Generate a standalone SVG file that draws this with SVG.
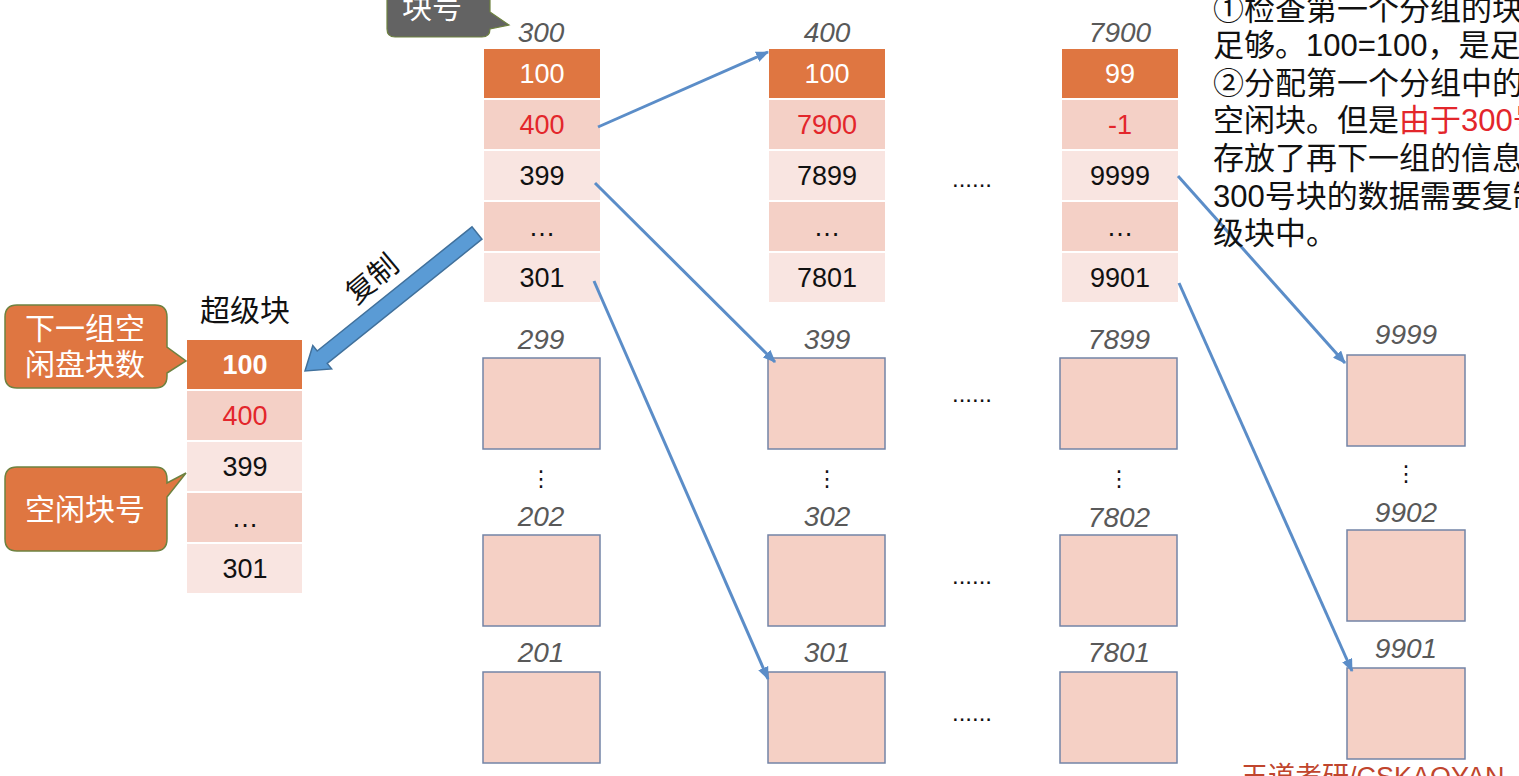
<svg xmlns="http://www.w3.org/2000/svg" width="1519" height="776" viewBox="0 0 1519 776">
<style>
  text { font-family: "Liberation Sans", "Noto Sans CJK SC", sans-serif; }
  .hd { fill: #DF7641; }
  .c1 { fill: #F4D0C6; }
  .c2 { fill: #F9E5E1; }
  .v { font-size: 27px; text-anchor: middle; fill: #111; }
  .w { fill: #fff; }
  .r { fill: #E3262B; }
  .lbl { font-size: 28px; font-style: italic; fill: #595959; text-anchor: middle; }
  .box { fill: #F5D0C5; stroke: #7384A6; stroke-width: 1.5; }
  .dots { font-size: 24px; fill: #111; text-anchor: middle; }
  .vd { font-family: "DejaVu Sans", sans-serif; font-size: 22px; fill: #111; text-anchor: middle; }
  .conn { stroke: #5B8DC8; stroke-width: 3; fill: none; marker-end: url(#ah); }
  .co { fill: #DF7641; stroke: #6E8240; stroke-width: 1.5; }
  .ct { font-size: 30px; fill: #fff; }
  .note { font-size: 31px; fill: #111; }
</style>
<defs>
  <marker id="ah" viewBox="0 0 12 10" refX="11" refY="5" markerWidth="13" markerHeight="11" markerUnits="userSpaceOnUse" orient="auto">
    <path d="M0,0 L12,5 L0,10 z" fill="#5B8DC8"/>
  </marker>
</defs>
<rect width="1519" height="776" fill="#fff"/>

<!-- Column block 300 -->
<g id="blk300">
  <text class="lbl" x="541" y="42">300</text>
  <rect class="hd" x="484" y="49" width="116" height="49"/>
  <rect class="c1" x="484" y="100" width="116" height="49"/>
  <rect class="c2" x="484" y="151" width="116" height="49"/>
  <rect class="c1" x="484" y="202" width="116" height="49"/>
  <rect class="c2" x="484" y="253" width="116" height="49"/>
  <text class="v w" x="542" y="83">100</text>
  <text class="v r" x="542" y="134">400</text>
  <text class="v" x="542" y="185">399</text>
  <text class="v" x="542" y="236">…</text>
  <text class="v" x="542" y="287">301</text>
</g>

<g id="blk400">
  <text class="lbl" x="827" y="42">400</text>
  <rect class="hd" x="769" y="49" width="116" height="49"/>
  <rect class="c1" x="769" y="100" width="116" height="49"/>
  <rect class="c2" x="769" y="151" width="116" height="49"/>
  <rect class="c1" x="769" y="202" width="116" height="49"/>
  <rect class="c2" x="769" y="253" width="116" height="49"/>
  <text class="v w" x="827" y="83">100</text>
  <text class="v r" x="827" y="134">7900</text>
  <text class="v" x="827" y="185">7899</text>
  <text class="v" x="827" y="236">…</text>
  <text class="v" x="827" y="287">7801</text>
</g>

<g id="blk7900">
  <text class="lbl" x="1120" y="42">7900</text>
  <rect class="hd" x="1062" y="49" width="116" height="49"/>
  <rect class="c1" x="1062" y="100" width="116" height="49"/>
  <rect class="c2" x="1062" y="151" width="116" height="49"/>
  <rect class="c1" x="1062" y="202" width="116" height="49"/>
  <rect class="c2" x="1062" y="253" width="116" height="49"/>
  <text class="v w" x="1120" y="83">99</text>
  <text class="v r" x="1120" y="134">-1</text>
  <text class="v" x="1120" y="185">9999</text>
  <text class="v" x="1120" y="236">…</text>
  <text class="v" x="1120" y="287">9901</text>
</g>

<!-- Superblock -->
<g id="superblock">
  <text x="245" y="321" font-size="30" fill="#111" text-anchor="middle">超级块</text>
  <rect class="hd" x="187" y="340" width="115" height="49"/>
  <rect class="c1" x="187" y="391" width="115" height="49"/>
  <rect class="c2" x="187" y="442" width="115" height="49"/>
  <rect class="c1" x="187" y="493" width="115" height="49"/>
  <rect class="c2" x="187" y="544" width="115" height="49"/>
  <text class="v w" x="245" y="374" font-weight="bold">100</text>
  <text class="v r" x="245" y="425">400</text>
  <text class="v" x="245" y="476">399</text>
  <text class="v" x="245" y="527">…</text>
  <text class="v" x="245" y="578">301</text>
</g>

<!-- Lower boxes -->
<g id="col1-boxes">
  <text class="lbl" x="541" y="349">299</text>
  <rect class="box" x="483" y="358" width="117" height="91"/>
  <text class="vd" x="541" y="486">⋮</text>
  <text class="lbl" x="541" y="526">202</text>
  <rect class="box" x="483" y="535" width="117" height="91"/>
  <text class="lbl" x="541" y="662">201</text>
  <rect class="box" x="483" y="672" width="117" height="91"/>
</g>
<g id="col2-boxes">
  <text class="lbl" x="827" y="349">399</text>
  <rect class="box" x="768" y="358" width="117" height="91"/>
  <text class="vd" x="827" y="486">⋮</text>
  <text class="lbl" x="827" y="526">302</text>
  <rect class="box" x="768" y="535" width="117" height="91"/>
  <text class="lbl" x="827" y="662">301</text>
  <rect class="box" x="768" y="672" width="117" height="91"/>
</g>
<g id="col3-boxes">
  <text class="lbl" x="1119" y="349">7899</text>
  <rect class="box" x="1060" y="358" width="117" height="91"/>
  <text class="vd" x="1119" y="486">⋮</text>
  <text class="lbl" x="1119" y="527">7802</text>
  <rect class="box" x="1060" y="535" width="117" height="91"/>
  <text class="lbl" x="1119" y="662">7801</text>
  <rect class="box" x="1060" y="672" width="117" height="91"/>
</g>
<g id="col4-boxes">
  <text class="lbl" x="1406" y="344">9999</text>
  <rect class="box" x="1347" y="355" width="118" height="91"/>
  <text class="vd" x="1406" y="481">⋮</text>
  <text class="lbl" x="1406" y="522">9902</text>
  <rect class="box" x="1347" y="530" width="118" height="91"/>
  <text class="lbl" x="1406" y="658">9901</text>
  <rect class="box" x="1347" y="668" width="118" height="91"/>
</g>

<g id="ellipses">
  <text class="dots" x="972" y="187">......</text>
  <text class="dots" x="972" y="402">......</text>
  <text class="dots" x="972" y="584">......</text>
  <text class="dots" x="972" y="721">......</text>
</g>

<!-- Connectors -->
<g id="connectors">
  <line class="conn" x1="598" y1="127" x2="768" y2="52"/>
  <line class="conn" x1="595" y1="183" x2="775" y2="362"/>
  <line class="conn" x1="594" y1="281" x2="768" y2="679"/>
  <line class="conn" x1="1178" y1="176" x2="1345" y2="363"/>
  <line class="conn" x1="1179" y1="283" x2="1352" y2="671"/>
  <polygon points="482,239.2 472,226.8 317.2,351 312.8,345.5 305,371 331.6,368.9 327.2,363.4" fill="#5A9BD5" stroke="#41719C" stroke-width="1.5"/>
  <text x="372" y="289" font-size="29" fill="#111" text-anchor="middle" transform="rotate(-40 372 279)">复制</text>
</g>

<!-- Callouts -->
<g id="callout-blockno">
  <path d="M395,-12 H482 Q490,-12 490,-4 V12 L509,25 L490,29 V29 Q490,37 482,37 H395 Q387,37 387,29 V-4 Q387,-12 395,-12 Z" fill="#636363" stroke="#6E8240" stroke-width="1.2"/>
  <text x="402" y="18" font-size="30" fill="#fff">块号</text>
</g>
<g id="callout-count">
  <path d="M17,305 H155 Q167,305 167,317 V347 L186,361 L167,373 V376 Q167,388 155,388 H17 Q5,388 5,376 V317 Q5,305 17,305 Z" class="co"/>
  <text class="ct" x="85" y="339" text-anchor="middle">下一组空</text>
  <text class="ct" x="85" y="375" text-anchor="middle">闲盘块数</text>
</g>
<g id="callout-freeno">
  <path d="M17,467 H155 Q167,467 167,479 V483 L186,473 L167,497 V539 Q167,551 155,551 H17 Q5,551 5,539 V479 Q5,467 17,467 Z" class="co"/>
  <text class="ct" x="85" y="520" text-anchor="middle">空闲块号</text>
</g>

<!-- Explanation text -->
<g id="note">
  <text class="note" x="1213" y="20">①检查第一个分组的块</text>
  <text class="note" x="1213" y="56">足够。100=100，是足够</text>
  <text class="note" x="1213" y="94">②分配第一个分组中的</text>
  <text class="note" x="1213" y="131">空闲块。但是<tspan fill="#E3262B">由于300号</tspan></text>
  <text class="note" x="1213" y="169" fill="#E3262B">存放了再下一组的信息</text>
  <text class="note" x="1213" y="207" fill="#E3262B">300号块的数据需要复制</text>
  <text class="note" x="1213" y="244" fill="#E3262B">级块中<tspan fill="#111">。</tspan></text>
</g>

<text x="1241" y="786" font-size="27" fill="#C0452D">王道考研/CSKAOYAN</text>
</svg>
